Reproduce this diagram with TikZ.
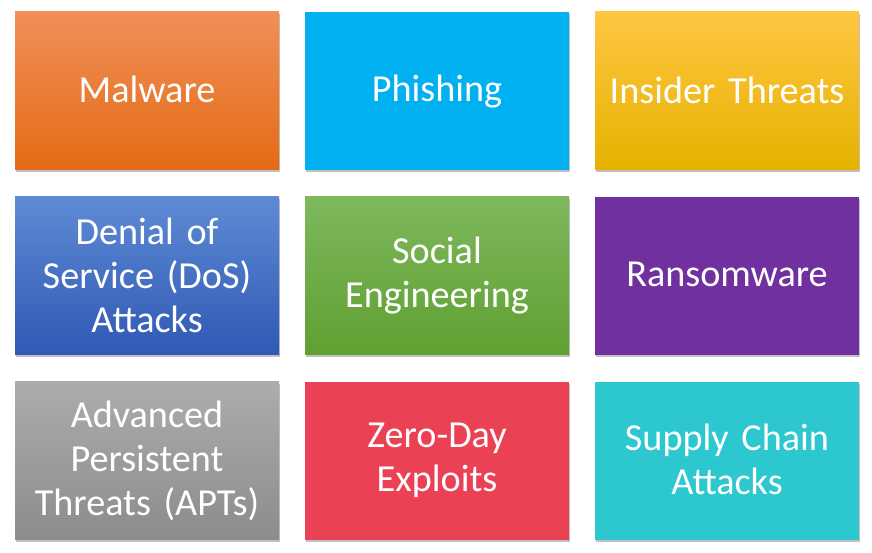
\documentclass[tikz,border=0pt]{standalone}
\usepackage{fontspec}
\setmainfont[WordSpace=0.85]{Carlito}
\definecolor{phish}{RGB}{0,176,240}
\definecolor{ransom}{RGB}{112,48,160}
\definecolor{zero}{RGB}{235,65,85}
\definecolor{supply}{RGB}{44,199,207}
\begin{document}
\begin{tikzpicture}[x=1pt,y=1pt,
  tile/.style={draw=none, minimum width=264pt, minimum height=158pt, inner sep=0pt, outer sep=0pt},
  shadowed/.style={preaction={fill=black!55, opacity=0.45, transform canvas={shift={(1.2pt,-2.2pt)}}}},
  lbl/.style={text=white, font=\fontsize{38.2}{44}\selectfont, align=center, text width=255pt, inner sep=0pt}]
\useasboundingbox (0,0) rectangle (872,553);
\node[tile, shadowed, top color={rgb,255:red,241;green,143;blue,88}, middle color={rgb,255:red,242;green,124;blue,40}, bottom color={rgb,255:red,228;green,107;blue,22}] (t1) at (147,462) {};
\node[tile, shadowed, fill=phish] (t2) at (437,462) {};
\node[tile, shadowed, top color={rgb,255:red,255;green,198;blue,66}, middle color={rgb,255:red,254;green,192;blue,0}, bottom color={rgb,255:red,230;green,178;blue,0}] (t3) at (727,462) {};
\node[tile, shadowed, top color={rgb,255:red,94;green,138;blue,212}, middle color={rgb,255:red,68;green,114;blue,196}, bottom color={rgb,255:red,47;green,89;blue,180}] (t4) at (147,277) {};
\node[tile, shadowed, top color={rgb,255:red,126;green,184;blue,92}, middle color={rgb,255:red,112;green,173;blue,71}, bottom color={rgb,255:red,95;green,160;blue,50}] (t5) at (437,277) {};
\node[tile, shadowed, fill=ransom] (t6) at (727,277) {};
\node[tile, shadowed, top color={rgb,255:red,172;green,172;blue,172}, middle color={rgb,255:red,163;green,163;blue,163}, bottom color={rgb,255:red,140;green,140;blue,140}] (t7) at (147,92) {};
\node[tile, shadowed, fill=zero] (t8) at (437,92) {};
\node[tile, shadowed, fill=supply] (t9) at (727,92) {};
\node[lbl] (l1) at ([yshift=1.5pt]t1) {Malware};
\node[lbl] (l2) at ([yshift=-0.5pt]t2) {Phishing};
\node[lbl] (l3) at ([yshift=1pt]t3) {Insider Threats};
\node[lbl] (l4) at ([yshift=1pt]t4) {Denial of\\Service (DoS)\\Attacks};
\node[lbl] (l5) at ([yshift=0pt]t5) {Social\\Engineering};
\node[lbl] (l6) at ([yshift=2pt]t6) {Ransomware};
\node[lbl] (l7) at ([yshift=0pt]t7) {Advanced\\Persistent\\Threats (APTs)};
\node[lbl] (l8) at ([yshift=1pt]t8) {Zero-Day\\Exploits};
\node[lbl] (l9) at ([yshift=1.5pt]t9) {Supply Chain\\Attacks};
\end{tikzpicture}
\end{document}
